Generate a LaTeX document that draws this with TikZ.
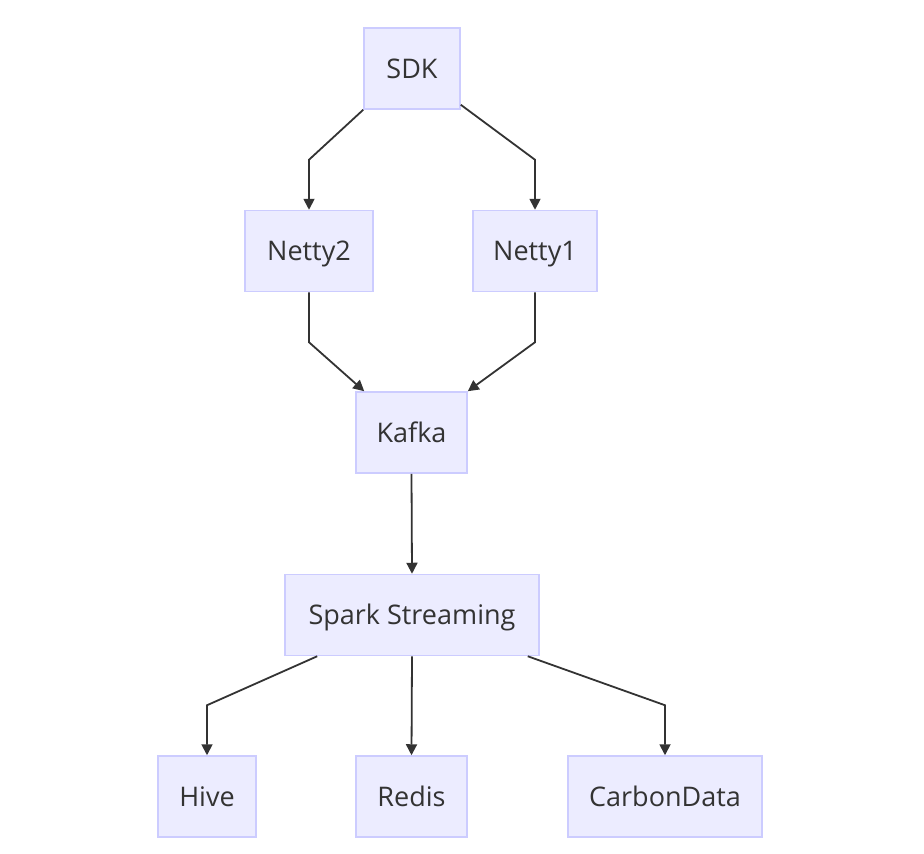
\documentclass[tikz,border=0pt]{standalone}
\usepackage{fontspec}
\setmainfont{Open Sans}
\definecolor{boxfill}{RGB}{236, 236, 255}
\definecolor{boxline}{RGB}{204, 204, 255}
\definecolor{inkgray}{RGB}{51, 51, 51}
\usetikzlibrary{arrows.meta, positioning}
\tikzset{
  box/.style={draw=boxline, fill=boxfill, line width=1.5pt, minimum height=81pt, inner xsep=18pt, text height=19.3pt, text depth=0pt, text=inkgray, font=\fontsize{27}{32}\selectfont},
  link/.style={draw=inkgray, line width=1.8pt, -{Triangle[length=11pt, width=11pt]}}
}

\begin{document}
\begin{tikzpicture}[x=1pt, y=-1pt]
  \useasboundingbox (0,0) rectangle (924,854);

  % Nodes
  \node[box, minimum width=96pt] (sdk) at (412, 68.5) {SDK};
  \node[box, minimum width=128pt] (netty2) at (309, 251) {Netty2};
  \node[box, minimum width=124pt] (netty1) at (535, 251) {Netty1};
  \node[box, minimum width=111pt] (kafka) at (411.5, 432.5) {Kafka};
  \node[box, minimum width=254pt] (spark) at (412, 615) {Spark Streaming};
  \node[box, minimum width=98pt] (hive) at (207, 796.5) {Hive};
  \node[box, minimum width=111pt] (redis) at (411.5, 796.5) {Redis};
  \node[box, minimum width=194pt] (carbon) at (665, 796.5) {CarbonData};

  % Connectors
  \draw[link] (sdk.south west) -- ([yshift=50pt]netty2.north) -- (netty2.north);
  \draw[link] ([yshift=5pt]sdk.south east) -- ([yshift=50pt]netty1.north) -- (netty1.north);
  \draw[link] (netty2.south) -- ([yshift=-50pt]netty2.south) -- ([xshift=9pt]kafka.north west);
  \draw[link] (netty1.south) -- ([yshift=-50pt]netty1.south) -- (kafka.north east);
  \draw[link] (kafka.south) -- (spark.north);
  \draw[link] ([xshift=33pt]spark.south west) -- ([yshift=50pt]hive.north) -- (hive.north);
  \draw[link] (spark.south) -- (redis.north);
  \draw[link] ([xshift=-12pt]spark.south east) -- ([yshift=50pt]carbon.north) -- (carbon.north);
\end{tikzpicture}
\end{document}
